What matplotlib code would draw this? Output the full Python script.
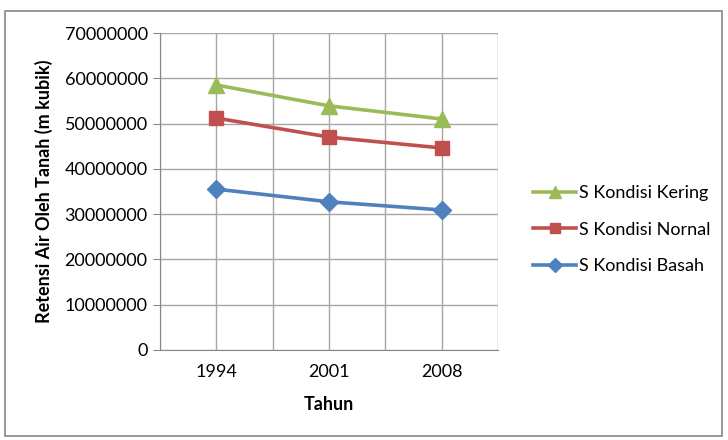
"""Retensi air oleh tanah, three moisture conditions, Excel-style line chart."""

import matplotlib.pyplot as plt
from matplotlib.patches import Rectangle

years = ["1994", "2001", "2008"]
kering = [58500000, 53900000, 51000000]
normal = [51200000, 47000000, 44600000]
basah = [35500000, 32700000, 30900000]

plt.rcParams["font.family"] = ["Lato", "DejaVu Sans"]

fig = plt.figure(figsize=(7.28, 4.4), dpi=100)
ax = fig.add_axes([0.22, 0.205, 0.464, 0.72])

x = range(len(years))
ax.plot(x, kering, color="#9BBB59", lw=2.6, marker="^", ms=11, label="S Kondisi Kering")
ax.plot(x, normal, color="#C0504D", lw=2.6, marker="s", ms=10, label="S Kondisi Nornal")
ax.plot(x, basah, color="#4F81BD", lw=2.6, marker="D", ms=9, label="S Kondisi Basah")

ax.set_xlim(-0.5, 2.5)
ax.set_ylim(0, 70000000)
ax.set_yticks(range(0, 70000001, 10000000))
ax.set_yticklabels([str(v) for v in range(0, 70000001, 10000000)], fontsize=13)
ax.set_xticks(list(x))
ax.set_xticklabels(years, fontsize=13)
ax.set_xticks([-0.5, 0.5, 1.5, 2.5], minor=True)

ax.grid(True, which="major", color="#a6a6a6", lw=1)
ax.grid(True, which="minor", axis="x", color="#a6a6a6", lw=1)
ax.tick_params(axis="x", which="both", length=0, pad=10)
ax.tick_params(axis="y", length=5, color="#888888", pad=4)
for side in ["top", "right"]:
    ax.spines[side].set_visible(False)
ax.spines["left"].set_color("#888888")
ax.spines["bottom"].set_color("#888888")

ax.set_ylabel("Retensi Air Oleh Tanah (m kubik)", fontsize=13, fontweight="bold", labelpad=8)
ax.set_xlabel("Tahun", fontsize=13, fontweight="bold", labelpad=12)

fig.legend(loc="center left", bbox_to_anchor=(0.71, 0.478), frameon=False,
           fontsize=13, handlelength=2.4, labelspacing=1.15, handletextpad=0.15,
           markerscale=0.75)

fig.patches.append(Rectangle((0.007, 0.008), 0.985, 0.966, transform=fig.transFigure,
                             fill=False, edgecolor="#888888", lw=1.2))

fig.savefig("out.png")
